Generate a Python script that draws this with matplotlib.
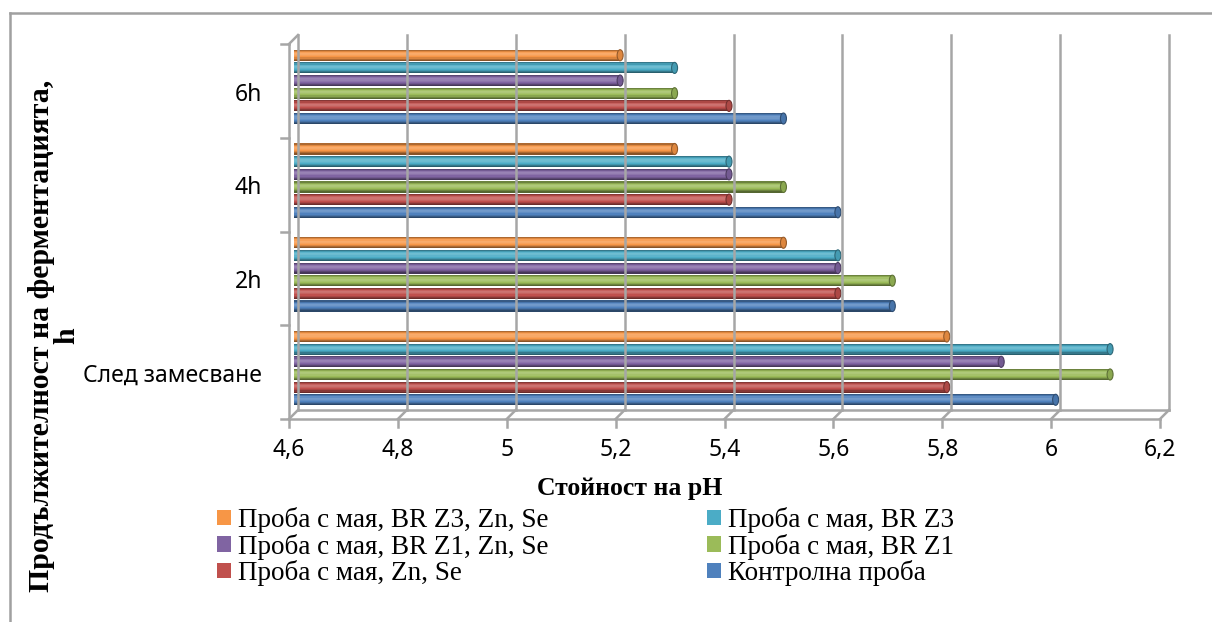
import numpy as np
import matplotlib
matplotlib.use("Agg")
import matplotlib.pyplot as plt
from matplotlib.colors import to_rgb
from matplotlib.patches import Patch, Ellipse
from matplotlib.lines import Line2D

# стойности на pH по категории (отдолу нагоре)
categories = ["След замесване", "2h", "4h", "6h"]
kontrolna = [6.0, 5.7, 5.6, 5.5]
maya_zn_se = [5.8, 5.6, 5.4, 5.4]
maya_br_z1 = [6.1, 5.7, 5.5, 5.3]
maya_br_z1_zn_se = [5.9, 5.6, 5.4, 5.2]
maya_br_z3 = [6.1, 5.6, 5.4, 5.3]
maya_br_z3_zn_se = [5.8, 5.5, 5.3, 5.2]
xticks = [4.6, 4.8, 5.0, 5.2, 5.4, 5.6, 5.8, 6.0, 6.2]
xtick_labels = ["4,6", "4,8", "5", "5,2", "5,4", "5,6", "5,8", "6", "6,2"]

series = [
    ("Контролна проба", kontrolna, "#4F81BD"),
    ("Проба с мая, Zn, Se", maya_zn_se, "#C0504D"),
    ("Проба с мая, BR Z1", maya_br_z1, "#9BBB59"),
    ("Проба с мая, BR Z1, Zn, Se", maya_br_z1_zn_se, "#8064A2"),
    ("Проба с мая, BR Z3", maya_br_z3, "#4BACC6"),
    ("Проба с мая, BR Z3, Zn, Se", maya_br_z3_zn_se, "#F79646"),
]

W, H = 1212, 622
fig = plt.figure(figsize=(W / 100, H / 100), dpi=100)

# предна равнина на графиката в пиксели
left, right, top, bottom = 289, 1160, 44, 419
ax = fig.add_axes([left / W, 1 - bottom / H, (right - left) / W, (bottom - top) / H])
x0, x1 = 4.6, 6.2
ax.set_xlim(x0, x1)
ax.set_ylim(0, 4)
ax.axis("off")

px_x = (x1 - x0) / (right - left)
px_y = 4 / (bottom - top)

# псевдо-3D отместване (задна стена)
dx = 9 * px_x
dy = 9 * px_y
grid_c = "#a6a6a6"
lw = 1.8

for v in xticks:
    ax.plot([v + dx, v + dx], [dy, 4 + dy], color=grid_c, lw=lw, clip_on=False)
    ax.plot([v, v + dx], [0, dy], color=grid_c, lw=lw, clip_on=False)
    ax.plot([v, v], [0, -8 * px_y], color=grid_c, lw=lw, clip_on=False)
ax.plot([x0 + dx, x1 + dx], [dy, dy], color=grid_c, lw=lw, clip_on=False)
ax.plot([x0, x1], [0, 0], color=grid_c, lw=lw, clip_on=False)
ax.plot([x0, x0], [0, 4], color=grid_c, lw=lw, clip_on=False)
ax.plot([x0, x0 + dx], [4, 4 + dy], color=grid_c, lw=lw, clip_on=False)
for k in range(5):
    ax.plot([x0 - 8 * px_x, x0], [k, k], color=grid_c, lw=lw, clip_on=False)


def shade(color, f):
    r, g, b = to_rgb(color)
    if f >= 0:
        return (r + (1 - r) * f, g + (1 - g) * f, b + (1 - b) * f)
    return (r * (1 + f), g * (1 + f), b * (1 + f))


# профил на осветяване на цилиндричните ленти (отдолу нагоре)
profile = [-0.45, -0.3, -0.12, 0.0, 0.1, 0.18, 0.2, 0.1, -0.1, -0.3]
bar_h = 0.118
step = 0.135
first = 0.205
shift = dx / 2
cap_w = 6 * px_x

for i, (name, vals, color) in enumerate(series):
    ys = np.arange(len(categories)) + first + i * step
    widths = np.array(vals) - x0
    n = len(profile)
    sh = bar_h / n
    for j, f in enumerate(profile):
        ax.barh(ys - bar_h / 2 + (j + 0.5) * sh, widths, height=sh * 1.02,
                left=x0 + shift, color=shade(color, f), linewidth=0, clip_on=False)
    # заоблен край на цилиндъра
    for y, v in zip(ys, vals):
        ax.add_patch(Ellipse((v + shift, y), cap_w, bar_h, facecolor=shade(color, -0.1),
                             edgecolor=shade(color, -0.4), lw=0.8, clip_on=False))

tick_font = ["Noto Sans", "DejaVu Sans"]
for k, lab in enumerate(categories):
    ax.text(x0 - 27 * px_x, k + 0.46, lab, ha="right", va="center",
            fontsize=16.5, family=tick_font)
for v, lab in zip(xticks, xtick_labels):
    ax.text(v, -31 * px_y, lab, ha="center", va="center", fontsize=16.5,
            family=tick_font)

serif = ["Liberation Serif", "DejaVu Serif"]
fig.text(630 / W, 1 - 488 / H, "Стойност на pH", ha="center", va="center",
         fontsize=18.5, fontweight="bold", family=serif)
fig.text(54 / W, 1 - 336 / H, "Продължителност на ферментацията,\nh",
         ha="center", va="center", rotation=90, multialignment="center",
         fontsize=21.5, fontweight="bold", family=serif, linespacing=0.95)

# легенда в две колони
order = [5, 3, 1, 4, 2, 0]
handles = [Patch(facecolor=series[k][2], edgecolor="none") for k in order]
labels = [series[k][0] for k in order]
fig.legend(handles, labels, loc="upper left", bbox_to_anchor=(217 / W, 1 - 507 / H),
           ncol=2, frameon=False, prop={"family": serif, "size": 19.5},
           handlelength=0.52, handleheight=0.52, handletextpad=0.25,
           columnspacing=5.85, labelspacing=0.02, borderpad=0, borderaxespad=0)

# рамка около цялата графика (горна и лява страна)
frame_c = "#a0a0a0"
fig.add_artist(Line2D([10 / W, 1], [1 - 12.5 / H, 1 - 12.5 / H],
                      transform=fig.transFigure, color=frame_c, lw=1.8))
fig.add_artist(Line2D([10 / W, 10 / W], [0, 1 - 12.5 / H],
                      transform=fig.transFigure, color=frame_c, lw=1.8))

fig.savefig("out.png", dpi=100)
